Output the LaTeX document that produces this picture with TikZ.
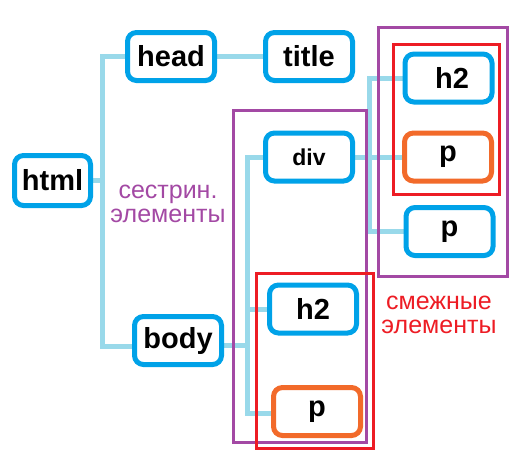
\documentclass[tikz,border=0pt]{standalone}
\usepackage{fontspec}
\setmainfont{Liberation Sans}
\usetikzlibrary{backgrounds}
\definecolor{boxblue}{HTML}{00A2E8}
\definecolor{boxorange}{HTML}{F26A2A}
\definecolor{connblue}{HTML}{99D9EA}
\definecolor{grpurple}{HTML}{A349A4}
\definecolor{grred}{HTML}{ED1C24}
\tikzset{
  tagbox/.style={draw=boxblue, line width=5pt, fill=white, rounded corners=9pt,
    minimum width=87pt, minimum height=48pt, inner sep=0pt,
    font=\fontsize{29}{34}\selectfont\bfseries},
  tagorange/.style={tagbox, draw=boxorange},
  conn/.style={draw=connblue, line width=5pt},
  grouppurple/.style={draw=grpurple, line width=3pt},
  groupred/.style={draw=grred, line width=3pt},
  grouplabel/.style={align=center, font=\fontsize{25}{23.5}\selectfont}
}
\begin{document}
\begin{tikzpicture}[x=1pt,y=-1pt]
\useasboundingbox (0,0) rectangle (520,456);
\coordinate (t1) at (102,0);
\coordinate (t2) at (247,0);
\coordinate (t3) at (369,0);

\node[tagbox, minimum width=76pt, minimum height=50pt] (html) at (52.5,180.5) {html};
\node[tagbox] (head) at (171,56.5) {head};
\node[tagbox] (title) at (309,56.5) {title};
\node[tagbox] (body) at (178,340.5) {body};
\node[tagbox, font=\fontsize{23}{28}\selectfont\bfseries] (div) at (309,157) {div};
\node[tagbox] (h2a) at (448.5,78) {\hspace{7pt}h2};
\node[tagorange] (pa) at (448,157) {p};
\node[tagbox] (pb) at (449.5,231.5) {p};
\node[tagbox] (h2b) at (313,309) {h2};
\node[tagorange] (pc) at (317,411.5) {p};

\begin{pgfonlayer}{background}
\draw[conn] (html.east) -- (html.east -| t1);
\draw[conn] (head.west) -- (head.west -| t1) -- ([yshift=-5.5pt]body.west -| t1) -- ([yshift=-5.5pt]body.west);
\draw[conn] (head.east) -- (title.west);
\draw[conn] ([yshift=-4.5pt]body.east) -- ([yshift=-4.5pt]body.east -| t2);
\draw[conn] (div.west) -- (div.west -| t2) -- ([yshift=-1.5pt]pc.west -| t2) -- ([yshift=-1.5pt]pc.west);
\draw[conn] (h2b.west -| t2) -- (h2b.west);
\draw[conn] (div.east) -- (pa.west);
\draw[conn] (h2a.west) -- (h2a.west -| t3) -- (pb.west -| t3) -- (pb.west);
\end{pgfonlayer}

\draw[grouppurple] (233,110) rectangle (366,442);
\draw[grouppurple] (378,27) rectangle (507,276);
\draw[groupred] (393,44) rectangle (499,194);
\draw[groupred] (256,273) rectangle (373,448);

\node[grouplabel, text=grpurple] (siblab) at (168,204) {сестрин.\\элементы};
\node[grouplabel, text=grred] (adjlab) at (439,315) {смежные\\элементы};
\end{tikzpicture}
\end{document}
